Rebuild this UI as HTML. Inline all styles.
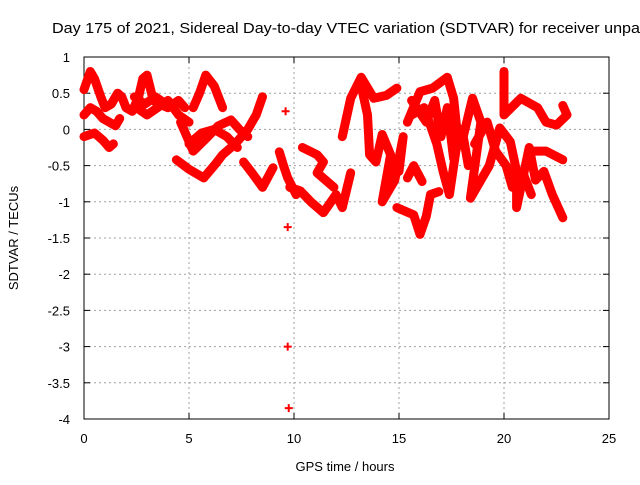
<!DOCTYPE html>
<html><head><meta charset="utf-8"><style>
body{margin:0;background:#fff;width:640px;height:480px;overflow:hidden}
text{font-family:"Liberation Sans",sans-serif;font-size:13px;fill:#000}
</style></head><body>
<svg id="chart" width="640" height="480" viewBox="0 0 640 480" xmlns="http://www.w3.org/2000/svg">
<text x="52" y="33" style="font-size:15px" textLength="588" lengthAdjust="spacingAndGlyphs">Day 175 of 2021, Sidereal Day-to-day VTEC variation (SDTVAR) for receiver unpa</text>
<text transform="translate(18,238) rotate(-90)" text-anchor="middle">SDTVAR / TECUs</text>
<text x="345" y="471" text-anchor="middle">GPS time / hours</text>
<g id="grid"></g>
<g id="axes"></g>
<g id="marks"></g>
</svg>
<script>
const xTicks=[0,5,10,15,20,25];
const yTicks=[1,0.5,0,-0.5,-1,-1.5,-2,-2.5,-3,-3.5,-4];
const traceA=[[0,0.55],[0.3,0.8],[0.5,0.7],[0.8,0.45],[1.0,0.3],[1.3,0.35],[1.6,0.5],[1.8,0.45],[2.0,0.3],[2.3,0.25],[2.6,0.45],[2.8,0.7],[3.0,0.75],[3.3,0.4],[3.6,0.35],[4.0,0.3],[4.5,0.4],[4.8,0.3]];
const traceB=[[0,0.2],[0.3,0.3],[0.6,0.25],[0.9,0.15],[1.2,0.1],[1.5,0.05],[1.7,0.15]];
const traceC=[[0,-0.1],[0.5,-0.05],[0.9,-0.15],[1.2,-0.25],[1.4,-0.2]];
const traceD=[[2.5,0.3],[3.0,0.2],[3.5,0.3],[4.0,0.4],[4.5,0.2],[5.0,0.1]];
const traceD2=[[2.4,0.45],[2.9,0.35],[3.4,0.45],[3.9,0.35],[4.3,0.3]];
const traceE=[[5.2,0.3],[5.5,0.5],[5.8,0.75],[6.2,0.6],[6.6,0.3]];
const traceF=[[4.4,-0.42],[5.0,-0.55],[5.7,-0.67],[6.2,-0.5],[6.6,-0.35],[7.2,-0.2],[7.8,0.0],[8.2,0.2],[8.5,0.45]];
const traceG=[[4.6,0.1],[5.2,-0.3],[5.9,-0.1],[6.4,0.05],[7.0,0.13],[7.4,0.0],[7.8,-0.1]];
const traceG2=[[5.0,-0.2],[5.6,-0.05],[6.2,0.0],[6.8,-0.1],[7.3,-0.25]];
const traceH=[[7.6,-0.45],[8.0,-0.6],[8.5,-0.8],[9.0,-0.53]];
const traceI=[[9.3,-0.31],[9.5,-0.5],[9.7,-0.67],[10.1,-0.9]];
const traceJ=[[9.8,-0.8],[10.3,-0.85],[10.8,-1.0],[11.4,-1.15],[12.0,-0.9],[12.3,-1.08],[12.7,-0.6]];
const traceK=[[10.4,-0.25],[11.1,-0.35],[11.4,-0.45],[11.1,-0.6],[11.9,-0.8]];
const traceL=[[12.3,-0.1],[12.7,0.43],[13.2,0.72],[13.8,0.43],[14.4,0.47],[14.9,0.57]];
const traceM=[[13.2,0.6],[13.5,0.2],[13.6,-0.35],[13.9,-0.45],[14.2,-0.07],[14.6,-0.35],[14.2,-1.0],[14.8,-0.7],[15.2,-0.1],[15.0,-0.58]];
const traceN=[[14.9,-1.08],[15.7,-1.18],[16.0,-1.45],[16.3,-1.2],[16.5,-0.9],[16.9,-0.86]];
const traceO=[[15.4,-0.67],[15.7,-0.5],[16.1,-0.72]];
const traceP=[[15.4,0.1],[16.0,0.52],[16.6,0.57],[17.3,0.72],[17.6,0.43],[17.8,-0.12],[17.4,-0.9],[17.1,-0.58],[16.8,-0.2],[16.2,0.3],[15.6,0.2]];
const traceP2=[[15.6,0.4],[16.3,0.1],[16.7,0.4],[17.0,-0.1],[17.3,0.3],[17.6,-0.4],[18.0,0.0],[18.3,-0.5]];
const traceQ=[[18.0,-0.17],[18.5,0.43],[18.9,0.1],[18.4,-0.95],[19.3,-0.5],[19.8,0.02],[20.3,-0.17],[20.6,-0.58],[20.6,-1.08],[21.2,-0.25],[21.5,-0.7],[21.9,-0.58],[22.3,-0.9],[22.8,-1.22]];
const traceQ2=[[18.6,-0.2],[19.2,0.1],[19.6,-0.3],[20.1,-0.5],[20.4,-0.8],[20.9,-0.6],[21.3,-0.9]];
const traceR=[[20.0,0.8],[20.0,0.2],[20.8,0.43],[21.6,0.3],[22.0,0.1],[22.5,0.06],[23.0,0.2],[22.8,0.33]];
const traceS=[[21.2,-0.3],[22.0,-0.3],[22.8,-0.42]];
const isolated=[[9.6,0.25],[9.7,-1.35],[9.7,-3.0],[9.75,-3.85]];
const traces=[traceA,traceB,traceC,traceD,traceD2,traceE,traceF,traceG,traceG2,traceH,traceI,traceJ,traceK,traceL,traceM,traceN,traceO,traceP,traceP2,traceQ,traceQ2,traceR,traceS];

const L=84,R=609,T=57,B=419,X0=0,X1=25,Y0=-4,Y1=1;
const sx=v=>L+(v-X0)/(X1-X0)*(R-L);
const sy=v=>B-(v-Y0)/(Y1-Y0)*(B-T);
const NS="http://www.w3.org/2000/svg";
function mk(tag,attrs,parent){const e=document.createElementNS(NS,tag);for(const k in attrs)e.setAttribute(k,attrs[k]);parent.appendChild(e);return e;}
const grid=document.getElementById('grid'),axes=document.getElementById('axes'),marks=document.getElementById('marks');
xTicks.forEach(t=>{const x=sx(t);
 if(t>X0&&t<X1){const g=mk('line',{x1:x,x2:x,y1:T,y2:B,stroke:'#a0a0a0','stroke-dasharray':'2,3'},grid);
 
 }
 mk('line',{x1:x,x2:x,y1:B,y2:B-6,stroke:'#000'},axes);mk('line',{x1:x,x2:x,y1:T,y2:T+6,stroke:'#000'},axes);
 const tx=mk('text',{x:x,y:B+24,'text-anchor':'middle'},axes);tx.textContent=t;
 
 });
yTicks.forEach(t=>{const y=sy(t);
 if(t>Y0&&t<Y1){const g=mk('line',{x1:L,x2:R,y1:y,y2:y,stroke:'#a0a0a0','stroke-dasharray':'2,3'},grid);
 
 }
 mk('line',{x1:L,x2:L+6,y1:y,y2:y,stroke:'#000'},axes);mk('line',{x1:R,x2:R-6,y1:y,y2:y,stroke:'#000'},axes);
 const tx=mk('text',{x:L-14,y:y+5,'text-anchor':'end'},axes);tx.textContent=t;
 
 });
const fr=mk('rect',{x:L,y:T,width:R-L,height:B-T,fill:'none',stroke:'#000'},axes);


function plus(p){const x=sx(p[0]),y=sy(p[1]);
 const g=mk('path',{d:`M${x-4},${y}H${x+4}M${x},${y-4}V${y+4}`,stroke:'#f00','stroke-width':2},marks);
 
 }
traces.forEach(tr=>{
 const pl=mk('polyline',{points:tr.map(p=>sx(p[0])+','+sy(p[1])).join(' '),fill:'none',stroke:'#f00','stroke-width':9,'stroke-linejoin':'round','stroke-linecap':'round'},marks);
 
 
 tr.forEach(plus);});
isolated.forEach(plus);
</script>
</body></html>
